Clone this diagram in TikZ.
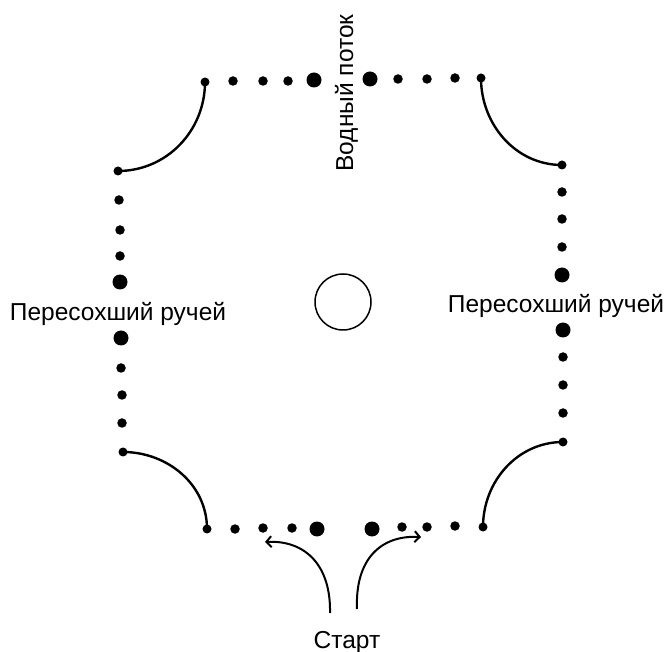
\documentclass[tikz,border=0pt]{standalone}
\usepackage{fontspec}
\setmainfont{Liberation Sans}
\usetikzlibrary{arrows.meta}
\begin{document}
\begin{tikzpicture}[x=1pt,y=-1pt,
  sdot/.style={circle,fill,inner sep=0pt,minimum size=9.5pt},
  bdot/.style={circle,fill,inner sep=0pt,minimum size=15pt},
  edot/.style={circle,fill,inner sep=0pt,minimum size=9pt},
  bank/.style={line width=2.4pt},
  walk/.style={line width=2pt,-{Straight Barb[length=5pt,width=11pt,line width=2pt]}},
  lbl/.style={font=\fontsize{24.5}{29}\selectfont,inner sep=0pt,anchor=base}]
\useasboundingbox (0,0) rectangle (670,652);

% top edge
\node[edot] (t0) at (205,82) {};
\node[sdot] (t1) at (233,81) {};
\node[sdot] (t2) at (263,81) {};
\node[sdot] (t3) at (288,81) {};
\node[bdot] (t4) at (314,80) {};
\node[bdot] (t5) at (370,79) {};
\node[sdot] (t6) at (398,79) {};
\node[sdot] (t7) at (427,79) {};
\node[sdot] (t8) at (455,78) {};
\node[edot] (t9) at (481,78) {};

% left edge
\node[edot] (l0) at (118,171) {};
\node[sdot] (l1) at (119,200) {};
\node[sdot] (l2) at (120,230) {};
\node[sdot] (l3) at (120,256) {};
\node[bdot] (l4) at (120,282) {};
\node[bdot] (l5) at (121,338) {};
\node[sdot] (l6) at (121,368) {};
\node[sdot] (l7) at (122,395) {};
\node[sdot] (l8) at (122,423) {};
\node[edot] (l9) at (123,452) {};

% right edge
\node[edot] (r0) at (562,165) {};
\node[sdot] (r1) at (562,192) {};
\node[sdot] (r2) at (562,219) {};
\node[sdot] (r3) at (562,247) {};
\node[bdot] (r4) at (562,275) {};
\node[bdot] (r5) at (563,330) {};
\node[sdot] (r6) at (563,357) {};
\node[sdot] (r7) at (563,385) {};
\node[sdot] (r8) at (563,413) {};
\node[edot] (r9) at (563,442) {};

% bottom edge
\node[edot] (b0) at (207,529) {};
\node[sdot] (b1) at (235,529) {};
\node[sdot] (b2) at (263,528) {};
\node[sdot] (b3) at (292,528) {};
\node[bdot] (b4) at (317,529) {};
\node[bdot] (b5) at (372,529) {};
\node[sdot] (b6) at (402,527) {};
\node[sdot] (b7) at (427,527) {};
\node[sdot] (b8) at (455,526) {};
\node[edot] (b9) at (483,527) {};

% curved banks at the corners
\draw[bank] (t0.center) to[out=-90,in=0] (l0.center);
\draw[bank] (t9.center) to[out=-90,in=180] (r0.center);
\draw[bank] (l9.center) to[out=0,in=90] (b0.center);
\draw[bank] (r9.center) to[out=180,in=90] (b9.center);

% centre marker
\node[circle,draw,line width=1.5pt,minimum size=56pt,inner sep=0pt] (c) at (343,302) {};

% labels
\node[lbl,rotate=90] (water) at (353,93) {Водный поток};
\node[lbl] (dryl) at (118,321) {Пересохший ручей};
\node[lbl] (dryr) at (556,313) {Пересохший ручей};
\node[lbl] (start) at (347,648) {Старт};

% start arrows
\coordinate (sl) at (330,613);
\coordinate (el) at (265,542);
\coordinate (sr) at (357,609);
\coordinate (er) at (421,537);
\draw[walk] (sl) .. controls (331,565) and (305,540) .. (el);
\draw[walk] (sr) .. controls (355,560) and (380,535) .. (er);
\end{tikzpicture}
\end{document}
